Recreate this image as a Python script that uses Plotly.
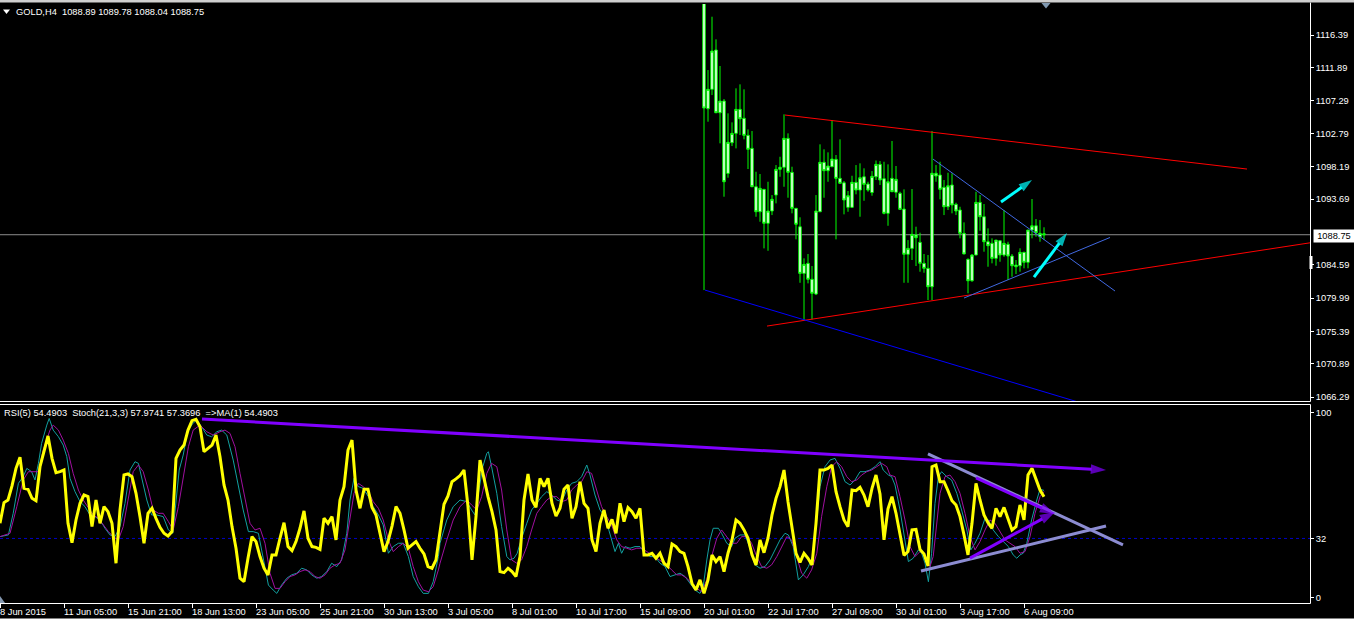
import plotly.graph_objects as go

# ---------------- data ----------------
x_tick_bars = [0, 16, 32, 48, 64, 80, 96, 112, 128, 144, 160, 176, 192, 208, 224, 240, 256]
x_tick_labels = ["8 Jun 2015", "11 Jun 05:00", "15 Jun 21:00", "18 Jun 13:00", "23 Jun 05:00",
                 "25 Jun 21:00", "30 Jun 13:00", "3 Jul 05:00", "8 Jul 01:00", "10 Jul 17:00",
                 "15 Jul 09:00", "20 Jul 01:00", "22 Jul 17:00", "27 Jul 09:00", "30 Jul 01:00",
                 "3 Aug 17:00", "6 Aug 09:00"]
price_tick_vals = [1116.39, 1111.89, 1107.29, 1102.79, 1098.19, 1093.69,
                   1084.59, 1079.99, 1075.39, 1070.89, 1066.29]
osc_tick_vals = [100, 32, 0]
last_price = 1088.75
symbol_name = "GOLD,H4"
header_ohlc = ["1088.89", "1089.78", "1088.04", "1088.75"]
osc_header = "RSI(5) 54.4903\u00a0\u00a0Stoch(21,3,3) 57.9741 57.3696\u00a0\u00a0=>MA(1) 54.4903"
rsi_level = 32

candle_first_bar = 176
c_open = [1123.5, 1106.19, 1108.87, 1114.31, 1105.63, 1107.25, 1097.24, 1101.48, 1102.78, 1106.10,
          1104.86, 1102.50, 1100.70, 1095.39, 1091.93, 1095.03, 1090.33, 1092.03, 1094.24, 1097.80,
          1098.08, 1102.09, 1097.38, 1092.40, 1089.85, 1083.40, 1084.79, 1082.58, 1080.54, 1091.93,
          1098.77, 1097.61, 1098.16, 1099.18, 1096.55, 1095.94, 1092.54, 1092.54, 1096.00, 1094.93,
          1096.77, 1095.76, 1094.59, 1096.77, 1098.49, 1096.50, 1091.71, 1096.55, 1094.62, 1094.48,
          1092.30, 1086.04, 1086.86, 1088.71, 1087.70, 1084.79, 1084.10, 1081.55, 1097.25, 1097.01,
          1095.31, 1092.62, 1095.63, 1092.95, 1092.17, 1088.94, 1085.34, 1082.38, 1085.94, 1093.23,
          1091.24, 1087.78, 1087.56, 1085.48, 1087.92, 1085.94, 1087.42, 1085.80, 1084.55, 1084.46,
          1086.31, 1084.93, 1089.40, 1089.99, 1088.47, 1088.89]
c_high = [1124.0, 1111.54, 1118.92, 1115.79, 1112.10, 1107.53, 1105.55, 1104.30, 1109.01, 1109.56,
          1108.87, 1103.33, 1103.10, 1097.47, 1097.15, 1095.07, 1096.08, 1094.24, 1098.39, 1099.54,
          1105.41, 1102.78, 1098.16, 1092.40, 1091.16, 1085.48, 1086.08, 1084.42, 1094.24, 1101.26,
          1100.57, 1100.15, 1104.62, 1099.78, 1101.95, 1096.18, 1094.80, 1096.91, 1098.39, 1098.63,
          1097.94, 1096.08, 1097.56, 1099.02, 1098.95, 1098.85, 1098.49, 1101.72, 1098.26, 1094.70,
          1095.03, 1088.01, 1095.07, 1089.86, 1089.03, 1086.08, 1085.94, 1103.10, 1098.39, 1098.85,
          1096.32, 1097.33, 1097.25, 1093.18, 1092.62, 1090.46, 1085.48, 1086.08, 1094.70, 1094.24,
          1093.00, 1089.63, 1088.25, 1088.01, 1088.01, 1092.17, 1087.78, 1086.08, 1085.25, 1086.87,
          1086.40, 1089.40, 1093.69, 1090.92, 1090.78, 1089.78]
c_low = [1081.09, 1104.39, 1108.08, 1105.63, 1101.40, 1094.01, 1096.64, 1101.02, 1100.70, 1102.55,
         1101.95, 1097.84, 1095.39, 1091.24, 1090.55, 1086.86, 1086.53, 1091.47, 1093.09, 1096.77,
         1095.39, 1093.87, 1091.71, 1088.11, 1082.10, 1076.84, 1082.02, 1077.04, 1080.40, 1091.93,
         1093.87, 1096.08, 1098.16, 1088.11, 1095.86, 1091.57, 1091.93, 1092.48, 1094.34, 1091.24,
         1093.45, 1094.70, 1094.15, 1096.32, 1095.63, 1091.57, 1089.99, 1094.70, 1093.87, 1092.17,
         1082.10, 1082.10, 1085.25, 1084.42, 1083.63, 1083.49, 1079.71, 1079.71, 1096.08, 1093.65,
         1091.47, 1092.17, 1091.71, 1091.47, 1088.25, 1086.08, 1080.64, 1082.24, 1085.94, 1089.30,
         1086.40, 1084.32, 1084.79, 1084.46, 1085.01, 1085.70, 1082.48, 1082.93, 1083.31, 1083.63,
         1084.10, 1084.10, 1088.25, 1088.47, 1087.78, 1088.04]
c_close = [1106.28, 1108.87, 1114.17, 1105.63, 1107.25, 1096.08, 1101.54, 1102.78, 1106.10, 1104.80,
           1102.50, 1100.57, 1095.39, 1091.93, 1095.17, 1090.33, 1092.03, 1093.65, 1097.80, 1098.08,
           1102.09, 1097.38, 1092.40, 1090.19, 1083.40, 1084.65, 1082.58, 1080.64, 1092.03, 1098.77,
           1097.61, 1098.26, 1099.22, 1096.55, 1095.86, 1093.55, 1094.15, 1096.00, 1094.93, 1096.64,
           1095.72, 1094.93, 1096.83, 1098.49, 1096.32, 1091.71, 1096.08, 1094.70, 1096.42, 1092.26,
           1086.04, 1086.86, 1088.80, 1088.33, 1084.79, 1084.10, 1081.55, 1097.25, 1096.87, 1095.03,
           1092.62, 1095.53, 1092.86, 1092.03, 1088.94, 1086.08, 1082.38, 1085.94, 1093.23, 1091.24,
           1087.78, 1087.23, 1085.48, 1088.01, 1085.94, 1087.56, 1085.80, 1084.46, 1084.32, 1086.31,
           1084.93, 1089.40, 1089.99, 1089.02, 1088.94, 1088.75]

rsi = [40.2, 51.4, 52.8, 60.4, 69.9, 75.9, 59.1, 58.6, 53.7, 52.4,
       70.8, 79.8, 87.4, 75.3, 67.6, 68.1, 69.0, 40.2, 29.7, 42.0,
       51.0, 55.5, 54.6, 38.4, 52.8, 40.2, 49.2, 46.5, 40.2, 18.6,
       47.4, 66.3, 66.9, 65.4, 56.4, 43.8, 29.4, 45.6, 48.3, 42.9,
       38.0, 34.8, 33.3, 35.7, 75.3, 79.8, 82.5, 90.6, 95.7, 96.4,
       92.4, 78.9, 80.7, 82.5, 87.9, 76.2, 60.9, 52.8, 38.4, 26.7,
       10.5, 8.6, 21.3, 33.0, 30.3, 22.2, 15.9, 12.3, 23.1, 23.1,
       32.1, 40.5, 27.6, 25.4, 30.3, 37.5, 46.9, 32.1, 27.6, 27.2,
       26.1, 42.9, 40.2, 43.8, 31.2, 52.8, 60.0, 79.8, 85.2, 58.2,
       48.3, 58.6, 58.6, 48.7, 44.7, 33.9, 24.9, 30.3, 38.7, 49.2,
       45.6, 36.6, 26.7, 28.5, 30.3, 26.7, 23.6, 16.8, 15.9, 20.4,
       36.6, 50.5, 55.0, 62.7, 64.2, 66.0, 69.0, 49.2, 20.4, 43.8,
       74.4, 63.6, 54.6, 46.5, 36.6, 14.1, 13.5, 15.9, 14.1, 11.4,
       22.2, 52.8, 66.9, 52.8, 48.8, 64.5, 60.0, 64.5, 51.0, 44.1,
       48.3, 58.6, 60.9, 42.9, 49.2, 62.7, 51.0, 48.3, 31.2, 24.9,
       40.2, 47.4, 37.5, 42.3, 34.8, 51.0, 41.1, 48.7, 46.5, 42.9,
       48.3, 23.1, 23.1, 24.0, 21.3, 24.0, 18.6, 16.8, 29.0, 27.6,
       24.9, 24.0, 16.8, 7.7, 4.1, 9.6, 2.3, 9.6, 23.1, 19.5,
       22.2, 14.1, 24.0, 31.2, 42.0, 40.2, 36.6, 32.1, 23.1, 17.7,
       31.2, 24.3, 32.1, 44.7, 53.7, 60.0, 69.0, 51.9, 36.6, 24.0,
       19.1, 24.0, 21.3, 17.7, 40.2, 69.0, 69.0, 69.9, 71.7, 57.3,
       49.2, 42.0, 38.4, 58.2, 57.8, 59.6, 55.5, 49.2, 59.1, 66.3,
       56.0, 31.2, 48.0, 54.6, 45.6, 34.8, 22.9, 24.9, 36.6, 36.9,
       26.1, 23.6, 17.1, 70.8, 71.7, 62.7, 62.7, 57.8, 52.4, 50.1,
       43.8, 33.9, 23.1, 40.2, 61.8, 52.8, 44.7, 40.5, 37.5, 48.3,
       43.8, 48.8, 42.9, 36.6, 38.4, 50.1, 42.0, 66.3, 69.9, 63.6,
       58.2, 54.49]

stoch_main_bar = [0, 2.1, 3.3, 4.6, 5.8, 6.7, 7.9, 8.75, 9.6, 10.4, 11.7, 12.3, 13.3, 14.6, 15.8,
                  16.7, 17.5, 18.75, 20, 21.25, 22.5, 23.75, 25, 26.25, 27.5, 28.75, 30, 31.25, 32.5,
                  33.75, 34.6, 35.4, 36.7, 37.9, 39.2, 40.8, 42.1, 43.2, 43.75, 44.8, 45.8, 46.9,
                  48.2, 49.2, 50.4, 51.7, 52.9, 54.2, 55.4, 56.7, 58.3, 59.6, 60.8, 62.1, 63.3, 64.6,
                  65.8, 67.1, 68.3, 69.2, 70.4, 71.7, 72.9, 74.2, 75.4, 76.7, 77.9, 79.2, 80.4, 81.7,
                  82.9, 84.2, 85.4, 86.7, 87.5, 88.5, 89.6, 90.8, 92.1, 93.3, 94.6, 95.8, 97.1, 98.3,
                  99.6, 100.8, 102.1, 103.3, 104.6, 105.8, 107.1, 108.3, 109.6,
                  110, 111.7, 113.3, 115, 116.7, 117.9, 118.75, 119.6, 120.7, 121.7, 122.1, 122.9,
                  124.2, 125.4, 126.7, 127.5, 128.5, 129.3, 130.4, 131.7, 132.9, 134.2, 135.4, 136.7,
                  137.9, 139.2, 140.4, 141.7, 142.9, 144.2, 145.4, 146.7, 147.5, 148.75, 150, 151.25,
                  152.5, 153.75, 154.6, 155.4, 156.25, 157.5, 158.75, 160, 161.25, 162.5, 163.75, 165,
                  166.25, 167.5, 168.75, 170, 171.25, 172.5, 173.75, 175, 175.8, 176.7, 177.5, 178.3,
                  179.6, 180.4, 181.7, 182.9, 183.75, 185, 186.25, 187.5, 188.75, 190, 191.25, 192.5,
                  193.75, 195, 196.25, 197.1, 198.3, 199.6, 200.8, 202.1, 203.3, 204.2, 205, 206.25,
                  207.5, 208.75, 210, 211.25, 212.5, 213.75, 215, 216.25, 217.5, 218.75, 220, 220.8,
                  222.1, 222.9, 223.75, 225, 226.25, 227.1, 228.3, 229.6, 230.4, 231.25, 232.1, 232.9,
                  233.75, 234.6, 235.4, 236.7, 237.9, 239.2, 240.4, 241.7, 242.7, 243.75, 245, 246.25,
                  247.1, 248.3, 249.6, 250.8, 252.1, 253.3, 254.2, 255, 255.8, 256.7, 257.9, 259.2,
                  260, 261]
stoch_main = [33.0, 33.9, 45.6, 61.8, 65.4, 69.9, 68.1, 63.6, 72.6, 83.4, 93.3, 96.9, 90.6, 87.0, 82.5,
              76.2, 64.5, 57.3, 51.9, 49.2, 44.7, 43.8, 42.0, 37.5, 33.9, 33.0, 38.4, 51.0, 69.0,
              73.5, 72.6, 65.4, 52.8, 44.7, 44.7, 43.8, 36.6, 34.8, 47.4, 69.0, 77.1, 89.7,
              94.2, 96.0, 92.4, 87.9, 87.0, 89.7, 90.6, 87.9, 74.4, 60.0, 47.4, 35.7, 35.7, 34.8,
              21.3, 6.8, 4.1, 2.3, 6.8, 10.5, 12.3, 13.2, 15.9, 15.0, 12.3, 10.5, 11.4, 14.1,
              18.6, 16.8, 20.4, 34.8, 52.8, 64.5, 60.0, 59.1, 54.6, 49.2, 44.7, 39.3, 24.0, 27.6,
              29.4, 29.4, 22.2, 11.4, 5.9, 2.3, 2.3, 8.6, 22.2,
              29.4, 42.0, 49.2, 52.8, 51.9, 47.4, 44.7, 56.4, 70.8, 78.0, 78.9, 70.8,
              56.4, 38.4, 22.2, 20.4, 21.3, 24.0, 32.1, 40.2, 47.4, 51.0, 54.6, 57.3,
              55.5, 52.8, 51.9, 58.2, 61.8, 62.7, 65.4, 71.7, 66.3, 55.5, 47.4, 43.8,
              34.8, 24.9, 29.4, 24.0, 27.6, 26.7, 27.6, 27.6, 24.0, 22.2, 22.2, 18.6,
              16.8, 11.4, 12.3, 13.2, 11.4, 7.7, 4.1, 2.3, 5.9, 20.4, 31.2, 37.5,
              37.5, 34.8, 29.4, 27.6, 32.1, 33.9, 33.9, 26.7, 17.7, 15.9, 16.8, 20.4,
              25.8, 31.2, 34.8, 33.9, 27.6, 9.6, 12.3, 16.8, 23.1, 42.0, 60.0, 70.8,
              74.4, 75.3, 69.9, 62.7, 60.9, 63.6, 68.1, 68.1, 69.0, 70.8, 73.5, 69.0,
              66.3, 65.4, 60.9, 47.4, 31.2, 19.5, 21.3, 25.8, 24.0, 18.6, 8.6, 24.0,
              51.0, 65.4, 68.1, 65.4, 63.6, 56.4, 47.4, 36.6, 25.8, 29.4, 34.8, 42.9,
              42.0, 36.6, 33.0, 30.3, 27.6, 23.1, 21.3, 23.1, 24.0, 29.4, 42.0, 52.8,
              58.6, 57.97]

stoch_sig_bar = [0, 2.5, 4.2, 5.8, 7.1, 8.3, 9.6, 10.8, 12.5, 13.3, 14.6, 15.8, 17.1, 18.3, 19.6,
                 20.8, 22.1, 23.3, 24.6, 25.8, 27.1, 28.3, 29.6, 30.8, 32.1, 33.3, 34.6, 35.8, 37.1,
                 38.3, 39.6, 40.8, 42.1, 43.3, 44.6, 45.8, 47.1, 48.3, 50, 51.7, 53.3, 55, 56.25,
                 57.5, 58.75, 60, 61.25, 62.5, 63.75, 65, 66.25, 67.5, 68.75, 70, 71.25, 72.5, 73.75,
                 75, 76.25, 77.5, 78.75, 80, 81.25, 82.5, 83.75, 85, 86.25, 87.5, 88.5, 89.6, 90.8,
                 92.1, 93.3, 94.6, 95.8, 97.1, 98.3, 99.6, 100.8, 102.1, 103.3, 104.6, 105.8, 107.1,
                 108.3, 109.6, 110, 111.7, 113.3, 115, 116.7, 117.9, 119.2, 120.4, 121.7, 122.9,
                 124.2, 125.4, 126.7, 127.9, 129.2, 130.4, 131.7, 132.9, 134.2, 135.4, 136.7, 137.9,
                 139.2, 140.4, 141.7, 142.9, 144.2, 145.4, 146.7, 147.9, 149.2, 150.4, 151.7, 152.9,
                 154.2, 155.4, 156.7, 157.9, 159.2, 160.4, 161.7, 162.9, 164.2, 165.4, 166.7, 167.9,
                 169.2, 170.4, 171.7, 172.9, 174.2, 175.4, 176.7, 177.9, 179.2, 180.4, 181.7, 182.9,
                 184.2, 185.4, 186.7, 187.9, 189.2, 190.4, 191.7, 192.9, 194.2, 195.4, 196.7, 197.9,
                 199.2, 200.4, 201.7, 202.9, 204.2, 205.4, 206.7, 207.9, 209.2, 210.4, 211.7, 212.9,
                 214.2, 215.4, 216.7, 217.9, 219.2, 220.4, 221.7, 222.5, 223.75, 225, 226.25, 227.5,
                 228.75, 230, 231.25, 232.5, 233.3, 234.2, 235, 236.25, 237.5, 238.75, 240, 241.25,
                 242.5, 243.75, 245, 246.25, 247.5, 248.75, 250, 251.25, 252.5, 253.75, 255, 256.25,
                 257.5, 258.75, 260, 261]
stoch_sig = [33.0, 34.8, 49.2, 63.6, 68.1, 68.1, 68.1, 79.8, 90.6, 93.3, 90.6, 85.2, 78.0, 67.2, 58.2,
             52.8, 48.3, 44.7, 42.9, 39.3, 35.7, 33.0, 31.2, 38.4, 54.6, 68.1, 71.7, 68.1, 58.2,
             47.4, 45.6, 45.6, 41.1, 36.6, 49.2, 65.4, 81.6, 90.6, 93.3, 89.7, 87.9, 89.7, 90.6,
             88.8, 81.6, 67.2, 52.8, 40.2, 36.6, 37.5, 29.4, 13.2, 5.0, 5.0, 8.6, 11.4, 12.3,
             14.1, 15.0, 14.1, 11.4, 10.5, 12.3, 15.9, 17.7, 18.6, 25.8, 42.0, 56.4, 61.8, 60.0,
             57.3, 51.9, 48.3, 42.0, 31.2, 24.9, 27.6, 29.4, 26.7, 16.8, 8.6, 4.1, 3.2,
             5.9, 15.0, 18.6, 31.2, 42.0, 49.2, 52.8, 50.1, 47.4, 54.6, 67.2, 72.6,
             70.8, 58.2, 36.6, 20.4, 18.6, 20.4, 27.6, 36.6, 45.6, 49.2, 52.8, 54.6,
             54.6, 51.9, 52.8, 58.2, 60.9, 62.7, 68.1, 67.2, 58.2, 49.2, 43.8, 39.3,
             31.2, 27.6, 26.7, 25.8, 26.7, 26.7, 24.9, 23.1, 21.3, 19.5, 17.7, 15.0,
             12.3, 12.3, 10.5, 7.7, 5.0, 3.2, 9.6, 22.2, 32.1, 36.6, 33.0, 29.4,
             29.4, 33.0, 33.0, 29.4, 22.2, 16.8, 15.9, 17.7, 22.2, 27.6, 33.0, 31.2,
             22.2, 13.2, 10.5, 15.0, 24.0, 43.8, 60.0, 70.8, 73.5, 70.8, 65.4, 62.7,
             63.6, 66.3, 68.1, 69.0, 70.8, 72.6, 70.8, 66.3, 65.4, 54.6, 42.0, 27.6,
             22.2, 24.9, 23.1, 16.8, 22.2, 40.2, 56.4, 65.4, 66.3, 62.7, 56.4, 45.6,
             33.0, 25.8, 30.3, 36.6, 42.0, 40.2, 35.7, 31.2, 29.4, 27.6, 24.0, 24.9,
             33.0, 45.6, 54.6, 57.37]

# drawn objects: (bar index list, value list)
red_upper_line = ([196.25, 311.75], [1105.31, 1097.84])
red_lower_line = ([191.75, 327.5], [1076.11, 1087.63])
blue_wide_line = ([176.25, 280.0], [1081.09, 1063.86])
blue_down_line = ([233.25, 278.75], [1099.22, 1080.96])
blue_up_line = ([241.0, 277.5], [1079.99, 1088.37])
cyan_arrow_1 = ([250.25, 258.0], [1093.27, 1096.32])
cyan_arrow_2 = ([258.5, 266.75], [1082.89, 1088.98])
purple_long_arrow = ([50.5, 276.5], [96.6, 69.0])
purple_arrow_down = ([244.0, 263.75], [64.7, 45.2])
purple_arrow_up = ([242.5, 263.75], [21.4, 46.3])
lavender_line_1 = ([232.0, 280.75], [77.7, 28.5])
lavender_line_2 = ([230.25, 276.5], [14.4, 38.7])

# ---------------- layout helpers ----------------
FIG_W, FIG_H = 1354, 625
PLOT_W = 1310
FONT = "Tahoma, 'Liberation Sans', Arial, sans-serif"
FS = 9.3


def px(x):
    return x / PLOT_W


def py(y):
    return 1 - y / FIG_H


X_RANGE = [0, PLOT_W / 4.0]
TOP_RANGE = [1065.74, 1120.68]
BOT_RANGE = [-2.9, 104.7]

fig = go.Figure()

# ---- top panel: trend lines ----
for pts, col, w in [(red_upper_line, "#ff0000", 1), (red_lower_line, "#ff0000", 1),
                    (blue_wide_line, "#0000ff", 1), (blue_down_line, "#4169e1", 1),
                    (blue_up_line, "#4169e1", 1)]:
    fig.add_trace(go.Scatter(x=pts[0], y=pts[1], mode="lines", line=dict(color=col, width=w),
                             xaxis="x", yaxis="y", showlegend=False, hoverinfo="skip"))

# ---- candles ----
bars = list(range(candle_first_bar, candle_first_bar + len(c_open)))
fig.add_trace(go.Candlestick(
    x=bars, open=c_open, high=c_high, low=c_low, close=c_close,
    increasing=dict(line=dict(color="#00ff00", width=1), fillcolor="#ffffff"),
    decreasing=dict(line=dict(color="#00ff00", width=1), fillcolor="#ffffff"),
    whiskerwidth=0, xaxis="x", yaxis="y", showlegend=False, hoverinfo="skip"))

# ---- cyan arrows ----
for pts in [cyan_arrow_1, cyan_arrow_2]:
    fig.add_trace(go.Scatter(x=pts[0], y=pts[1], mode="lines+markers",
                             line=dict(color="#00ffff", width=3),
                             marker=dict(symbol="arrow", angleref="previous", size=[0, 14],
                                         color="#00ffff", line=dict(width=0)),
                             xaxis="x", yaxis="y", showlegend=False, hoverinfo="skip"))

# ---- bottom panel: stochastic + RSI ----
fig.add_trace(go.Scatter(x=stoch_main_bar, y=stoch_main, mode="lines",
                         line=dict(color="#12a0a0", width=1), xaxis="x2", yaxis="y2",
                         showlegend=False, hoverinfo="skip"))
fig.add_trace(go.Scatter(x=stoch_sig_bar, y=stoch_sig, mode="lines",
                         line=dict(color="#a010a0", width=1), xaxis="x2", yaxis="y2",
                         showlegend=False, hoverinfo="skip"))
fig.add_trace(go.Scatter(x=list(range(len(rsi))), y=rsi, mode="lines",
                         line=dict(color="#ffff00", width=3), xaxis="x2", yaxis="y2",
                         showlegend=False, hoverinfo="skip"))

for pts in [lavender_line_1, lavender_line_2]:
    fig.add_trace(go.Scatter(x=pts[0], y=pts[1], mode="lines",
                             line=dict(color="#8c8cd2", width=3), xaxis="x2", yaxis="y2",
                             showlegend=False, hoverinfo="skip"))
for pts in [purple_long_arrow, purple_arrow_down, purple_arrow_up]:
    fig.add_trace(go.Scatter(x=pts[0], y=pts[1], mode="lines+markers",
                             line=dict(color="#8000ff", width=3),
                             marker=dict(symbol="arrow", angleref="previous", size=[0, 16],
                                         color="#8000ff", line=dict(width=0)),
                             xaxis="x2", yaxis="y2", showlegend=False, hoverinfo="skip"))

# ---------------- shapes ----------------
shapes = []
# bid line
shapes.append(dict(type="line", xref="x", yref="y", x0=X_RANGE[0], x1=X_RANGE[1],
                   y0=last_price, y1=last_price, line=dict(color="#8c8c8c", width=1), layer="below"))
# RSI level
shapes.append(dict(type="line", xref="x2", yref="y2", x0=X_RANGE[0], x1=X_RANGE[1],
                   y0=rsi_level, y1=rsi_level, line=dict(color="#0000c8", width=1, dash="3px,3px"),
                   layer="below"))
white = dict(color="#ffffff", width=1)
# frames
shapes.append(dict(type="line", xref="paper", yref="paper", x0=px(0), x1=px(1310.5),
                   y0=py(401.5), y1=py(401.5), line=white))
shapes.append(dict(type="line", xref="paper", yref="paper", x0=px(1310.5), x1=px(1310.5),
                   y0=py(2.5), y1=py(401.5), line=white))
shapes.append(dict(type="line", xref="paper", yref="paper", x0=px(0), x1=px(1310.5),
                   y0=py(404.5), y1=py(404.5), line=white))
shapes.append(dict(type="line", xref="paper", yref="paper", x0=px(1310.5), x1=px(1310.5),
                   y0=py(404.5), y1=py(603.5), line=white))
shapes.append(dict(type="line", xref="paper", yref="paper", x0=px(0), x1=px(1310.5),
                   y0=py(603.5), y1=py(603.5), line=white))
# top window strip
shapes.append(dict(type="rect", xref="paper", yref="paper", x0=px(0), x1=px(FIG_W),
                   y0=py(2.5), y1=py(0), line=dict(width=0), fillcolor="#cfcfcf"))
# bottom window strip
shapes.append(dict(type="rect", xref="paper", yref="paper", x0=px(0), x1=px(FIG_W),
                   y0=py(FIG_H), y1=py(618.5), line=dict(width=0), fillcolor="#ffffff"))
# chart shift marker
shapes.append(dict(type="path", xref="paper", yref="paper", fillcolor="#8098b0", line=dict(width=0),
                   path="M {} {} L {} {} L {} {} Z".format(px(1041.5), py(3), px(1050.5), py(3),
                                                          px(1046), py(8.5))))
# header triangle
shapes.append(dict(type="path", xref="paper", yref="paper", fillcolor="#ffffff", line=dict(width=0),
                   path="M {} {} L {} {} L {} {} Z".format(px(3), py(9.5), px(10), py(9.5),
                                                          px(6.5), py(14))))
# bottom-left marker
shapes.append(dict(type="path", xref="paper", yref="paper", fillcolor="#8498b0", line=dict(width=0),
                   path="M {} {} L {} {} L {} {} Z".format(px(0), py(603), px(0), py(596),
                                                          px(5), py(603))))
# ask marker on price scale
shapes.append(dict(type="rect", xref="paper", yref="paper", x0=px(1309.5), x1=px(1312.5),
                   y0=py(269), y1=py(256), line=dict(width=0), fillcolor="#ffffff"))

# ---------------- annotations ----------------
ann = []
ann.append(dict(text=symbol_name + "\u00a0\u00a0" + " ".join(header_ohlc), xref="paper", yref="paper",
                x=px(14), y=py(12), xanchor="left", yanchor="middle", showarrow=False,
                font=dict(color="#ffffff", size=FS, family=FONT)))
ann.append(dict(text=osc_header, xref="paper", yref="paper",
                x=px(2), y=py(413), xanchor="left", yanchor="middle", showarrow=False,
                font=dict(color="#ffffff", size=FS, family=FONT)))
for b, lab in zip(x_tick_bars, x_tick_labels):
    ann.append(dict(text=lab, xref="x2", yref="paper", x=b, y=py(612), xanchor="left",
                    yanchor="middle", xshift=-2, showarrow=False,
                    font=dict(color="#ffffff", size=FS, family=FONT)))
ann.append(dict(text="{:.2f}".format(last_price), xref="paper", yref="y", x=px(1312.5), y=last_price,
                xanchor="left", yanchor="middle", yshift=-1.5, showarrow=False, bgcolor="#ffffff",
                borderpad=1, width=38, height=10,
                font=dict(color="#000000", size=FS, family=FONT)))

axis_common = dict(showgrid=False, zeroline=False, showline=False, fixedrange=True)

fig.update_layout(
    width=FIG_W, height=FIG_H,
    margin=dict(l=0, r=FIG_W - PLOT_W, t=0, b=0, pad=0),
    paper_bgcolor="#000000", plot_bgcolor="#000000",
    font=dict(family=FONT, size=FS, color="#ffffff"),
    showlegend=False, hovermode=False, boxgap=0.12,
    xaxis=dict(domain=[0, 1], anchor="y", range=X_RANGE, showticklabels=False, ticks="",
               rangeslider=dict(visible=False), **axis_common),
    yaxis=dict(domain=[py(401), py(4)], anchor="x", side="right", range=TOP_RANGE,
               tickvals=price_tick_vals, ticktext=["{:.2f}".format(v) for v in price_tick_vals],
               ticks="outside", ticklen=3, tickcolor="#ffffff", tickwidth=1,
               tickfont=dict(color="#ffffff", size=FS, family=FONT), **axis_common),
    xaxis2=dict(domain=[0, 1], anchor="y2", range=X_RANGE, showticklabels=False,
                tickvals=x_tick_bars, ticks="outside", ticklen=4, tickcolor="#ffffff", tickwidth=1,
                rangeslider=dict(visible=False), **axis_common),
    yaxis2=dict(domain=[py(603), py(404)], anchor="x2", side="right", range=BOT_RANGE,
                tickvals=osc_tick_vals, ticktext=[str(v) for v in osc_tick_vals],
                ticks="outside", ticklen=3, tickcolor="#ffffff", tickwidth=1,
                tickfont=dict(color="#ffffff", size=FS, family=FONT), **axis_common),
    shapes=shapes, annotations=ann,
)

fig.write_html("out.html", config={"displayModeBar": False},
               post_script="document.body.style.margin='0px';document.body.style.overflow='hidden';")
